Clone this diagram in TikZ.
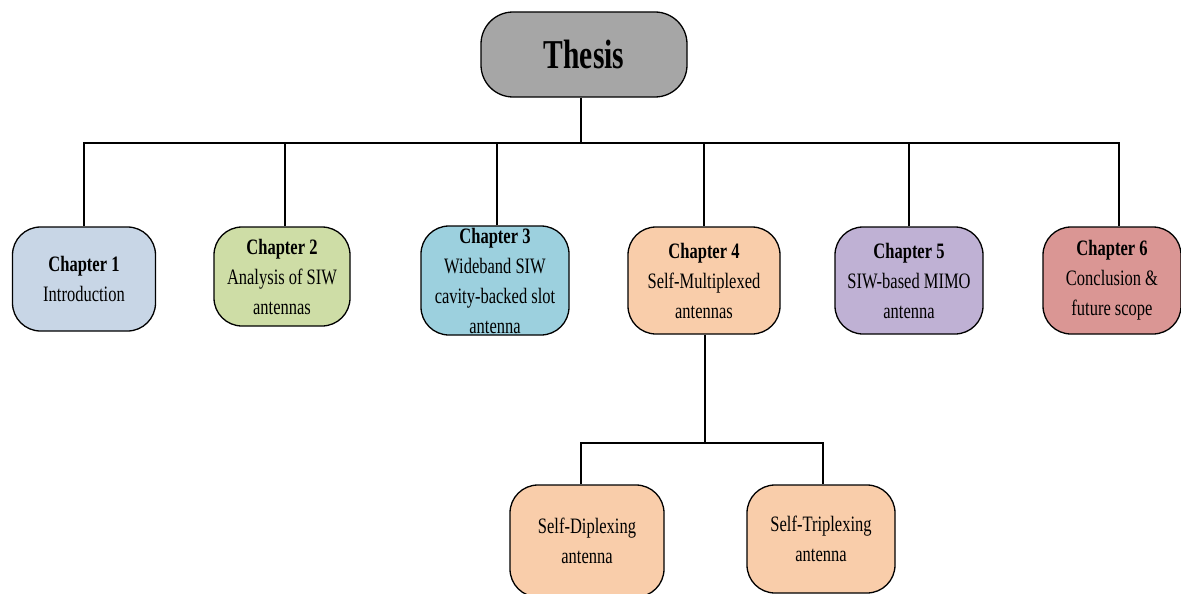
\documentclass[tikz,border=0pt]{standalone}
\usepackage{fontspec}
\setmainfont{Liberation Serif}[FakeStretch=0.75]
\newfontfamily\thesisfont{Liberation Serif}[FakeStretch=0.72]
\definecolor{thesiscol}{RGB}{166,166,166}
\definecolor{cA}{RGB}{200,214,230}
\definecolor{cB}{RGB}{206,221,166}
\definecolor{cC}{RGB}{156,208,222}
\definecolor{cD}{RGB}{249,205,170}
\definecolor{cE}{RGB}{191,177,212}
\definecolor{cF}{RGB}{218,150,148}
\tikzset{
  box/.style={draw=black, line width=1.3pt, rounded corners=28pt, align=center,
    inner sep=0pt, font=\fontsize{22}{30}\selectfont},
  link/.style={line width=1.3pt, draw=black}
}
\begin{document}
\begin{tikzpicture}[x=1pt,y=-1pt]
\useasboundingbox (0,0) rectangle (1181,594);
% top
\node[box, fill=thesiscol, minimum width=206pt, minimum height=85pt, rounded corners=32pt,
  font=\thesisfont\fontsize{41}{44}\selectfont\bfseries] (thesis) at (584,54.5) {Thesis};
% chapters
\node[box, fill=cA, minimum width=143pt, minimum height=104pt] (c1) at (84,279)
  {\textbf{Chapter 1}\\Introduction};
\node[box, fill=cB, minimum width=136pt, minimum height=99pt] (c2) at (282,276.5)
  {\textbf{Chapter 2}\\Analysis of SIW\\antennas};
\node[box, fill=cC, minimum width=148pt, minimum height=109pt] (c3) at (495,280.5)
  {\textbf{Chapter 3}\\Wideband SIW\\cavity-backed slot\\antenna};
\node[box, fill=cD, minimum width=152pt, minimum height=107pt] (c4) at (704,280.5)
  {\textbf{Chapter 4}\\Self-Multiplexed\\antennas};
\node[box, fill=cE, minimum width=148pt, minimum height=107pt] (c5) at (909,280.5)
  {\textbf{Chapter 5}\\SIW-based MIMO\\antenna};
\node[box, fill=cF, minimum width=138pt, minimum height=107pt] (c6) at (1112,280.5)
  {\textbf{Chapter 6}\\Conclusion \&\\future scope};
% sub boxes
\node[box, fill=cD, minimum width=154pt, minimum height=112pt] (d1) at (587,541)
  {Self-Diplexing\\antenna};
\node[box, fill=cD, minimum width=148pt, minimum height=108pt] (d2) at (821,539)
  {Self-Triplexing\\antenna};
% bus coordinates
\coordinate (bus) at (0,143);
\coordinate (subbus) at (0,443);
\coordinate (t1) at ([xshift=-3pt]thesis.south);
\coordinate (a2) at ([xshift=3pt]c2.north);
\coordinate (a3) at ([xshift=2pt]c3.north);
\coordinate (a6) at ([xshift=7pt]c6.north);
\coordinate (b4) at ([xshift=1pt]c4.south);
\coordinate (e1) at ([xshift=-6pt]d1.north);
\coordinate (e2) at ([xshift=2pt]d2.north);
% connectors
\draw[link] (t1) -- (t1 |- bus);
\draw[link] (c1.north) |- (a6 |- bus) -- (a6);
\draw[link] (a2) -- (a2 |- bus);
\draw[link] (a3) -- (a3 |- bus);
\draw[link] (c4.north) -- (c4.north |- bus);
\draw[link] (c5.north) -- (c5.north |- bus);
\draw[link] (b4) -- (b4 |- subbus);
\draw[link] (e1) |- (e2 |- subbus) -- (e2);
\end{tikzpicture}
\end{document}
